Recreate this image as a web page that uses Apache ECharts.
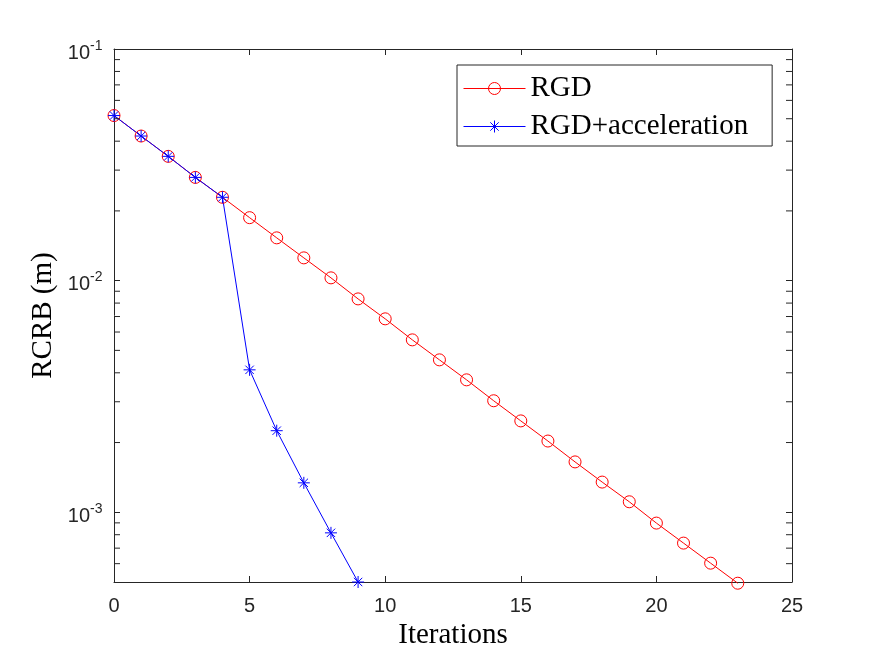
<!DOCTYPE html>
<html>
<head>
<meta charset="utf-8">
<script src="https://cdn.jsdelivr.net/npm/echarts@6/dist/echarts.min.js"></script>
<style>
  html, body { margin: 0; padding: 0; background: #fff; }
  #chart { width: 875px; height: 656px; }
</style>
</head>
<body>
<div id="chart"></div>
<script>
// iteration index for both runs
const iterations = [0, 1, 2, 3, 4, 5, 6, 7, 8, 9, 10, 11, 12, 13, 14, 15, 16, 17, 18, 19, 20, 21, 22, 23];
const accelIterations = [0, 1, 2, 3, 4, 5, 6, 7, 8, 9];

// RCRB (m)
const rgd = [0.0516, 0.0421, 0.0344, 0.0279, 0.0229, 0.0187, 0.0153, 0.01254, 0.01028, 0.00834,
    0.00684, 0.00555, 0.00455, 0.00373, 0.00303, 0.00248, 0.00203, 0.00165, 0.00135, 0.00111,
    0.000898, 0.000736, 0.000603, 0.000494];
const rgdAccel = [0.0516, 0.0421, 0.0344, 0.0279, 0.0229, 0.00412, 0.00225, 0.00134, 0.000815, 0.0005];

// log axis ticks (MATLAB style): labelled decades and unlabelled minor ticks
const majorTicks = [0.001, 0.01, 0.1];
const minorTicks = [0.0006, 0.0007, 0.0008, 0.0009,
    0.002, 0.003, 0.004, 0.005, 0.006, 0.007, 0.008, 0.009,
    0.02, 0.03, 0.04, 0.05, 0.06, 0.07, 0.08, 0.09];

const xMin = 0, xMax = 25, yMin = 0.0005, yMax = 0.1;
const axisColor = '#262626';
const serif = 'Liberation Serif';
const sans = 'Liberation Sans';

const asterisk = 'path://M5,0L5,10M0,5L10,5M1.5,1.5L8.5,8.5M1.5,8.5L8.5,1.5';

const chart = echarts.init(document.getElementById('chart'));

const baseX = {
    type: 'value',
    min: xMin,
    max: xMax,
    interval: 5,
    axisLine: {show: true, onZero: false, lineStyle: {color: axisColor, width: 1}},
    axisTick: {show: true, inside: true, length: 6, lineStyle: {color: axisColor}},
    splitLine: {show: false}
};
const baseY = {
    type: 'log',
    logBase: 10,
    min: yMin,
    max: yMax,
    axisLine: {show: true, onZero: false, lineStyle: {color: axisColor, width: 1}},
    axisTick: {show: true, inside: true, length: 6, lineStyle: {color: axisColor}},
    axisLabel: {show: false},
    splitLine: {show: false}
};

const option = {
    animation: false,
    backgroundColor: '#fff',
    grid: {left: 114, right: 83, top: 49, bottom: 74, containLabel: false},
    legend: {
        data: ['RGD', 'RGD+acceleration'],
        orient: 'vertical',
        left: 457,
        top: 65,
        align: 'left',
        itemWidth: 62,
        itemHeight: 15,
        itemGap: 9,
        padding: [9, 24, 5, 6],
        borderColor: axisColor,
        borderWidth: 1,
        backgroundColor: '#fff',
        lineStyle: {width: 1},
        itemStyle: {borderWidth: 1},
        textStyle: {fontFamily: serif, fontSize: 29, color: '#000', lineHeight: 26}
    },
    xAxis: [
        Object.assign({}, baseX, {
            position: 'bottom',
            axisLabel: {fontFamily: sans, fontSize: 20, color: axisColor, margin: 14},
            name: 'Iterations',
            nameLocation: 'middle',
            nameGap: 37,
            nameTextStyle: {fontFamily: serif, fontSize: 29, color: '#000'}
        }),
        Object.assign({}, baseX, {position: 'top', axisLabel: {show: false}})
    ],
    yAxis: [
        Object.assign({}, baseY, {
            position: 'left',
            name: 'RCRB (m)',
            nameLocation: 'middle',
            nameGap: 56,
            nameTextStyle: {fontFamily: serif, fontSize: 29, color: '#000'}
        }),
        Object.assign({}, baseY, {position: 'right'})
    ],
    series: [
        {
            name: 'RGD',
            type: 'line',
            data: iterations.map((x, i) => [x, rgd[i]]),
            symbol: 'circle',
            symbolSize: 12,
            clip: false,
            lineStyle: {color: '#ff0000', width: 1},
            itemStyle: {color: 'rgba(0,0,0,0)', borderColor: '#ff0000', borderWidth: 1}
        },
        {
            name: 'RGD+acceleration',
            type: 'line',
            data: accelIterations.map((x, i) => [x, rgdAccel[i]]),
            symbol: asterisk,
            symbolSize: 12,
            clip: false,
            lineStyle: {color: '#0000ff', width: 1},
            itemStyle: {color: '#0000ff', borderColor: '#0000ff', borderWidth: 1}
        },
        {
            // minor ticks on both vertical edges of the box
            name: 'minor',
            type: 'custom',
            silent: true,
            clip: false,
            z: 10,
            data: minorTicks.map(v => [xMin, v]),
            renderItem: (params, api) => {
                const v = api.value(1);
                const l = api.coord([xMin, v]);
                const r = api.coord([xMax, v]);
                const st = {stroke: axisColor, lineWidth: 1};
                return {
                    type: 'group',
                    children: [
                        {type: 'line', shape: {x1: l[0], y1: l[1], x2: l[0] + 6, y2: l[1]}, style: st},
                        {type: 'line', shape: {x1: r[0] - 6, y1: r[1], x2: r[0], y2: r[1]}, style: st}
                    ]
                };
            }
        },
        {
            // 10^n labels with a real superscript
            name: 'ylabels',
            type: 'custom',
            silent: true,
            clip: false,
            z: 10,
            data: majorTicks.map(v => [xMin, v]),
            renderItem: (params, api) => {
                const v = api.value(1);
                const p = api.coord([xMin, v]);
                const e = Math.round(Math.log10(v));
                const split = p[0] - 24;
                return {
                    type: 'group',
                    children: [
                        {type: 'text', style: {text: '10', x: split, y: p[1] + 4,
                            fontFamily: sans, fontSize: 20, fill: axisColor,
                            align: 'right', verticalAlign: 'middle'}},
                        {type: 'text', style: {text: String(e), x: split, y: p[1] - 3,
                            fontFamily: sans, fontSize: 14, fill: axisColor,
                            align: 'left', verticalAlign: 'middle'}}
                    ]
                };
            }
        }
    ]
};

chart.setOption(option);
</script>
</body>
</html>
